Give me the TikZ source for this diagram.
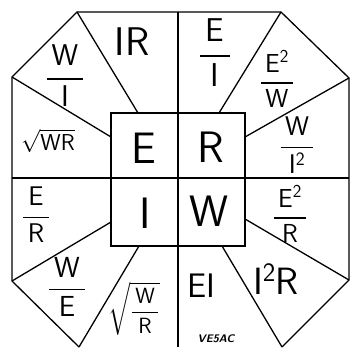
\documentclass[tikz,border=0pt]{standalone}
\usepackage{amsmath}
\usepackage{unicode-math}
\setmathfont{Latin Modern Math}
\newcommand{\frc}[2]{\genfrac{}{}{1.5pt}{0}{\,\mathsf{#1}\,}{\,\mathsf{#2}\,}}
\begin{document}
\begin{tikzpicture}[x=1pt,y=-1pt,line width=1.3pt,
    lbl/.style={inner sep=0pt,font=\fontsize{#1}{#1}\selectfont\sffamily}]
    \useasboundingbox (0,0) rectangle (352,347);
    % octagon corners
    \coordinate (A) at (77,12);
    \coordinate (B) at (281,12);
    \coordinate (C) at (349,78);
    \coordinate (D) at (349,280);
    \coordinate (E) at (282,347);
    \coordinate (F) at (79,347);
    \coordinate (G) at (12,281);
    \coordinate (H) at (12,77);
    \draw (F) -- (G) -- (H) -- (A) -- (B) -- (C) -- (D) -- (E);
    % inner square and cross
    \coordinate (sqa) at (111,113);
    \coordinate (sqb) at (245,246);
    \draw (sqa) rectangle (sqb);
    \coordinate (top) at (178,12);
    \coordinate (bot) at (178,347);
    \coordinate (lft) at (12,178);
    \coordinate (rgt) at (349,178);
    \draw (top) -- (bot);
    \draw (lft) -- (rgt);
    % spokes
    \draw (A) -- (138,113);
    \draw (H) -- (111,137);
    \draw (B) -- (219,113);
    \draw (C) -- (245,137);
    \draw (D) -- (245,219);
    \draw (E) -- (222,246);
    \draw (F) -- (139,246);
    \draw (G) -- (111,222);
    % inner letters
    \node[lbl=44] (e) at (144,148) {E};
    \node[lbl=44] (r) at (211,147) {R};
    \node[lbl=44] (i) at (145,213) {I};
    \node[lbl=44] (w) at (209,211) {W};
    % formulas
    \node[lbl=40] (ir) at (132,42) {IR};
    \node[lbl=30] (wi) at (65,76) {$\frc{W}{I}$};
    \node[lbl=33] (ei) at (215,53) {$\frc{E}{I}$};
    \node[lbl=26] (eew) at (277,79) {$\frc{E^2}{W}$};
    \node[lbl=27] (wii) at (297,145) {$\frc{W}{I^2}$};
    \node[lbl=23] (swr) at (48,141) {$\sqrt{\mathsf{WR}}$};
    \node[lbl=27] (er) at (36,215) {$\frc{E}{R}$};
    \node[lbl=26] (eer) at (290,214) {$\frc{E^2}{R}$};
    \node[lbl=29] (we) at (67,287) {$\frc{W}{E}$};
    \node[lbl=22] (swdr) at (134,309) {$\sqrt{\frc{W}{R}}$};
    \node[lbl=34] (eii) at (201,286) {EI};
    \node[lbl=38] (iir) at (276,279) {$\mathsf{I^2R}$};
    \node[inner sep=0pt,font=\fontsize{11}{11}\selectfont\sffamily\bfseries\itshape] (call) at (216,339) {VE5AC};
\end{tikzpicture}
\end{document}
